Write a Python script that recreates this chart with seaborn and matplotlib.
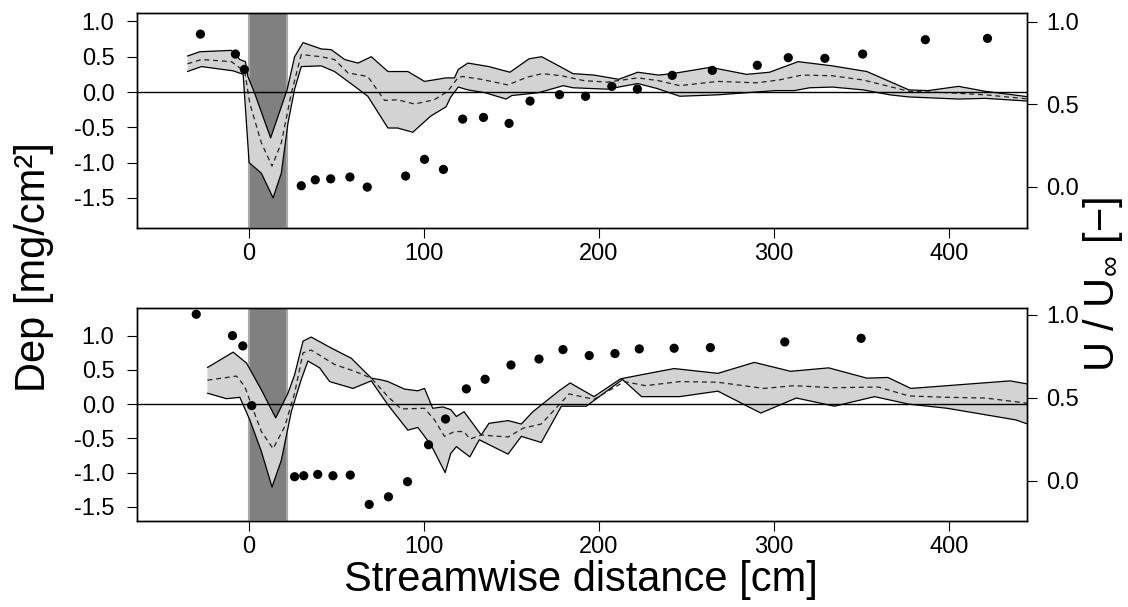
import numpy as np
import matplotlib
matplotlib.use("Agg")
import matplotlib.pyplot as plt
from matplotlib.ticker import FormatStrFormatter
import seaborn as sns

# sediment band (obstacle position, cm)
bar_start, bar_end = 0, 22

# ---- top panel: deposition band (left axis) ----
top_up_x = [-35, -28, -9.9, -5.1, -1.9, -0.5, 3.4, 12.5, 21.9, 26.2, 31, 41.4, 47.1, 54.8, 62.4, 70,
            79.5, 90.9, 100.4, 112.7, 117.5, 119.7, 125.2, 137.2, 149.2, 160.1, 167.3, 178.6, 185.2,
            197.2, 211.3, 222.2, 234.2, 241.9, 263.7, 284.4, 297.5, 313.8, 333.5, 353.1, 377.1, 388,
            405.5, 420.7, 446]
top_up_y = [0.51, 0.57, 0.59, 0.46, 0.43, 0.22, -0.02, -0.65, 0.03, 0.50, 0.70, 0.61, 0.60, 0.46, 0.41, 0.50,
            0.29, 0.29, 0.15, 0.20, 0.20, 0.32, 0.41, 0.36, 0.28, 0.47, 0.50, 0.35, 0.26,
            0.24, 0.18, 0.28, 0.24, 0.26, 0.35, 0.25, 0.28, 0.43, 0.37, 0.29, 0.03, 0.02,
            0.08, 0.01, -0.07]
top_lo_x = [-35, -27, -8.9, -3.2, 0.2, 7.2, 13.9, 18.6, 22.4, 26.2, 30, 41.4, 49, 60.5, 68, 79.5, 85,
            93.7, 104, 112.7, 115.4, 119.7, 125.2, 135, 147, 150.3, 165.5, 179.7, 185.2, 204.8, 222.2,
            233.2, 246.2, 268, 300.8, 311.7, 320.4, 333.5, 351, 366.2, 377.1, 405.5, 420.7, 446]
top_lo_y = [0.29, 0.36, 0.30, 0.25, -1.00, -1.15, -1.50, -1.15, -0.44, 0.04, 0.36, 0.37, 0.29, 0.08, -0.06, -0.51, -0.51,
            -0.57, -0.34, -0.21, -0.07, 0.07, 0.03, -0.01, -0.10, -0.05, -0.01, 0.09, 0.06, 0.04, 0.12,
            0.05, -0.06, -0.04, 0.02, 0.02, 0.06, 0.07, 0.03, -0.04, -0.07, -0.10, -0.09, -0.13]
top_mn_x = [-35, -27, -9.9, -2.3, 0.6, 7.2, 13.3, 18.6, 24.3, 30, 41.4, 49, 56.7, 68, 77.6, 85, 94.7,
            106, 113.7, 119.4, 122, 132.8, 148, 159, 167.7, 178.6, 191.7, 204.8, 222.2, 234.2, 246.2,
            268, 289.9, 302.9, 316, 333.5, 351, 377.1, 398.9, 420.7, 446]
top_mn_y = [0.40, 0.46, 0.43, 0.29, -0.16, -0.72, -1.05, -0.72, -0.02, 0.53, 0.50, 0.46, 0.27, 0.22, -0.12, -0.11, -0.17,
            -0.11, 0.01, 0.20, 0.22, 0.18, 0.10, 0.21, 0.26, 0.23, 0.16, 0.14, 0.20, 0.16, 0.09,
            0.15, 0.13, 0.17, 0.24, 0.23, 0.17, 0.01, -0.01, -0.04, -0.10]
# top panel: velocity ratio (right axis)
top_u_x = [-27.6, -7.6, -2.5, 30, 38, 46.8, 57.8, 67.7, 89.6, 100.4, 111.2, 122.2, 134.1, 148.7, 160.7,
           177.5, 192.4, 207.4, 222, 241.9, 264.8, 290.5, 308.2, 329.1, 350.7, 386.5, 422]
top_u_y = [0.925, 0.804, 0.711, 0.006, 0.042, 0.048, 0.059, -0.002, 0.065, 0.166, 0.105, 0.41, 0.42, 0.384, 0.519,
           0.558, 0.548, 0.608, 0.592, 0.675, 0.705, 0.736, 0.782, 0.778, 0.804, 0.891, 0.899]

# ---- bottom panel ----
bot_up_x = [-23.6, -8.9, -1.3, 7.2, 15.4, 22.4, 26.2, 31, 35.7, 47.1, 58.6, 70, 75.7, 79.5, 89, 96.6,
            100.4, 105.1, 110.8, 115.4, 118.6, 123, 132.8, 137.2, 148.1, 155.7, 162.3, 177.5, 183.6,
            197.2, 212.4, 224.4, 243, 268, 288.8, 309.5, 331.3, 353.1, 365.1, 378.2, 398.9, 434.9, 446]
bot_up_y = [0.535, 0.76, 0.60, 0.21, -0.20, 0.16, 0.43, 0.92, 0.98, 0.82, 0.67, 0.38, 0.355, 0.33, 0.22, 0.195,
            0.23, -0.06, -0.04, -0.08, -0.18, -0.11, -0.45, -0.28, -0.24, -0.29, -0.11, 0.20, 0.31,
            0.11, 0.37, 0.43, 0.52, 0.45, 0.61, 0.48, 0.53, 0.38, 0.39, 0.23, 0.27, 0.34, 0.29]
bot_lo_x = [-23.6, -12.7, -5.1, 0.6, 7.2, 13.3, 18.6, 24.3, 30, 33.8, 40.5, 46.2, 59.5, 70, 79.5, 90.9,
            96.6, 104.2, 112.2, 115.4, 118.6, 126.3, 131.7, 148.1, 155.7, 167.1, 178.6, 192.8, 213.5,
            224.4, 246.2, 268, 292.5, 312.8, 334.6, 357.5, 377.1, 398.9, 438.2, 446]
bot_lo_y = [0.16, 0.08, 0.10, -0.23, -0.69, -1.21, -0.82, -0.11, 0.36, 0.63, 0.53, 0.33, 0.23, 0.34, -0.01, -0.38,
            -0.34, -0.60, -1.00, -0.72, -0.62, -0.77, -0.52, -0.73, -0.47, -0.56, -0.03, -0.03, 0.36,
            0.11, 0.11, 0.19, -0.13, 0.09, -0.03, 0.11, 0.00, -0.06, -0.23, -0.30]
bot_mn_x = [-23.6, -7, -2.3, 2.5, 7.2, 13.9, 20.5, 26.2, 31, 35.7, 49, 60.5, 70, 79.5, 87.1, 100.4, 106.1,
            111.8, 117.5, 123, 126.3, 132.8, 148.1, 156.8, 167.1, 183, 197.2, 214.6, 226.6, 246.2, 268,
            294.2, 311.7, 333.5, 359.7, 377.1, 398.9, 420.7, 446]
bot_mn_y = [0.35, 0.41, 0.26, -0.08, -0.40, -0.65, -0.33, 0.16, 0.75, 0.79, 0.58, 0.48, 0.38, 0.11, -0.07, -0.06, -0.23,
            -0.47, -0.40, -0.40, -0.51, -0.45, -0.48, -0.35, -0.29, 0.15, 0.07, 0.33, 0.27, 0.33, 0.32,
            0.23, 0.27, 0.24, 0.25, 0.12, 0.10, 0.09, 0.01]
bot_u_x = [-30, -9.3, -3.4, 1.7, 26.2, 31.4, 39.4, 48.1, 58, 68.8, 79.8, 90.7, 102.7, 112.4, 124.3, 135,
           149.8, 165.8, 179.5, 194.5, 209.2, 223.1, 243, 263.7, 306.2, 349.8]
bot_u_y = [1.004, 0.875, 0.813, 0.453, 0.024, 0.030, 0.038, 0.030, 0.034, -0.143, -0.097, -0.006, 0.217, 0.372,
           0.554, 0.612, 0.698, 0.734, 0.791, 0.755, 0.767, 0.795, 0.799, 0.803, 0.837, 0.859]

left_ticks = [-1.5, -1.0, -0.5, 0.0, 0.5, 1.0]
right_ticks = [0.0, 0.5, 1.0]
x_ticks = [0, 100, 200, 300, 400]

sns.set_style("ticks")
plt.rcParams['font.family'] = ['Liberation Sans', 'DejaVu Sans']
plt.rcParams['mathtext.fontset'] = 'custom'
plt.rcParams['mathtext.rm'] = 'Liberation Sans'
plt.rcParams['mathtext.it'] = 'Liberation Sans'
plt.rcParams['axes.edgecolor'] = 'black'
plt.rcParams['axes.linewidth'] = 1.0
plt.rcParams['text.color'] = 'black'
plt.rcParams['xtick.color'] = 'black'
plt.rcParams['ytick.color'] = 'black'
plt.rcParams['xtick.labelcolor'] = 'black'
plt.rcParams['ytick.labelcolor'] = 'black'

fig = plt.figure(figsize=(11.28, 6.07), dpi=100)
ax1 = fig.add_axes([0.1212, 0.6249, 0.7890, 0.3532])
ax2 = fig.add_axes([0.1212, 0.1417, 0.7890, 0.3504])


def draw_panel(ax, up_x, up_y, lo_x, lo_y, mn_x, mn_y, u_x, u_y, ylim, ylim_r):
    up_x, up_y = np.array(up_x), np.array(up_y)
    lo_x, lo_y = np.array(lo_x), np.array(lo_y)
    ax.axvspan(bar_start, bar_end, facecolor='#808080', edgecolor='#a8a8a8', lw=1.5, zorder=1)
    ax.fill(np.concatenate([up_x, lo_x[::-1]]), np.concatenate([up_y, lo_y[::-1]]),
            color='#d3d3d3', lw=0, zorder=2)
    sns.lineplot(x=up_x, y=up_y, ax=ax, color='black', lw=0.9, estimator=None, sort=False, zorder=3)
    sns.lineplot(x=lo_x, y=lo_y, ax=ax, color='black', lw=0.9, estimator=None, sort=False, zorder=3)
    sns.lineplot(x=mn_x, y=mn_y, ax=ax, color='#222222', lw=0.9, linestyle=(0, (4, 3)),
                 estimator=None, sort=False, zorder=3)
    ax.axhline(0, color='black', lw=1.0, zorder=4)
    ax.set_xlim(-64, 444.4)
    ax.set_ylim(*ylim)
    ax.set_xticks(x_ticks)
    ax.set_yticks(left_ticks)
    ax.yaxis.set_major_formatter(FormatStrFormatter('%.1f'))
    ax.tick_params(axis='both', direction='out', length=7, width=0.8, labelsize=17, color='black')
    ax.tick_params(axis='y', pad=9)
    ax.tick_params(axis='x', pad=4)
    ax.set_xlabel('')
    ax.set_ylabel('')

    axr = ax.twinx()
    sns.scatterplot(x=u_x, y=u_y, ax=axr, color='black', s=44, edgecolor='none', zorder=5)
    axr.set_ylim(*ylim_r)
    axr.set_yticks(right_ticks)
    axr.yaxis.set_major_formatter(FormatStrFormatter('%.1f'))
    axr.tick_params(axis='y', direction='out', length=7, width=0.8, labelsize=17, pad=7, color='black')
    axr.set_ylabel('')
    return axr


draw_panel(ax1, top_up_x, top_up_y, top_lo_x, top_lo_y, top_mn_x, top_mn_y,
           top_u_x, top_u_y, (-1.922, 1.115), (-0.248, 1.051))
draw_panel(ax2, bot_up_x, bot_up_y, bot_lo_x, bot_lo_y, bot_mn_x, bot_mn_y,
           bot_u_x, bot_u_y, (-1.706, 1.40), (-0.243, 1.040))

fig.text(0.5150, 0.026, 'Streamwise distance [cm]', ha='center', va='baseline', fontsize=30)
fig.text(0.030, 0.56, 'Dep [mg/cm²]', ha='center', va='center', rotation=90, fontsize=30)
fig.text(0.978, 0.532, r'U / U$_{\infty}$ [−]', ha='center', va='center', rotation=90, fontsize=30)

fig.savefig('out.png', dpi=100)
